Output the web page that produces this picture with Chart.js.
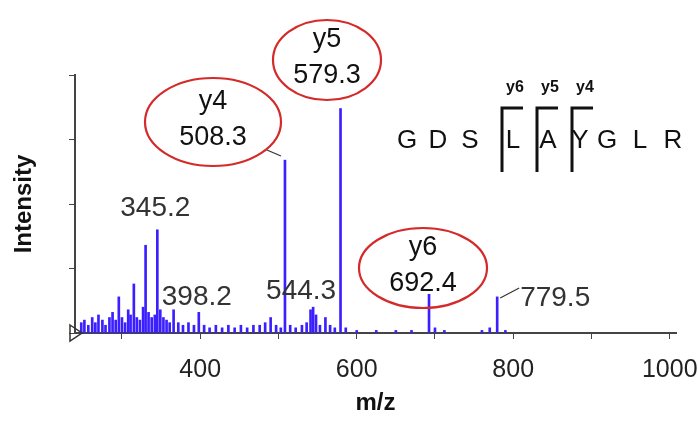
<!DOCTYPE html>
<html>
<head>
<meta charset="utf-8">
<script src="https://cdn.jsdelivr.net/npm/chart.js@4"></script>
<style>
  html, body { margin: 0; padding: 0; background: #fff; }
  #wrap { width: 698px; height: 422px; }
</style>
</head>
<body>
<div id="wrap"><canvas id="spectrum"></canvas></div>
<script>
// peak list (m/z, relative intensity)
const peakMz = [248, 252, 257, 262, 266, 270, 275, 279, 284, 288, 292, 296, 300, 304, 308, 311, 315.2,
    319, 323, 327, 330.2, 334, 338, 342, 345.2, 349, 353, 357, 361, 366, 372, 378, 385, 392, 398.2,
    405, 412, 420, 428, 436, 444, 452, 460, 468, 476, 483, 490, 497, 503, 508.3, 515, 522, 530,
    536, 541, 544.3, 548, 553, 560, 566, 572, 579.3, 586, 600, 625, 650, 670, 692.4, 700, 712,
    760, 770, 779.5, 790];
const peakInt = [4, 5, 3, 6, 4, 7, 5, 3, 6, 8, 5, 14, 6, 4, 9, 7, 19,
    6, 5, 10, 34, 8, 6, 7, 40, 9, 6, 5, 4, 9, 4, 3, 4, 3, 8,
    3, 2, 3, 2, 3, 2, 3, 2, 3, 3, 4, 6, 3, 2, 67, 3, 2, 3,
    4, 9, 10, 7, 3, 6, 3, 2, 87, 2, 1, 1, 1, 1, 15, 2, 1,
    1, 2, 14, 1];
const xTicks = [300, 400, 500, 600, 700, 800, 900, 1000];
const xLabels = ["400", "600", "800", "1000"];
const sequence = ["G", "D", "S", "L", "A", "Y", "G", "L", "R"];
const seqX = [407, 438, 470, 513, 548, 580, 607, 640, 673];
const fragLabels = ["y6", "y5", "y4"];

const font = "Arial, 'Liberation Sans', sans-serif";

const annotate = {
    id: "annotate",
    afterDraw(chart) {
        const c = chart.ctx;
        const xs = chart.scales.x;
        c.save();
        // baseline triangle marker
        c.strokeStyle = "#333"; c.lineWidth = 1.5;
        c.beginPath();
        c.moveTo(70, 325); c.lineTo(82, 333); c.lineTo(70, 341); c.closePath(); c.stroke();

        c.fillStyle = "#333";
        c.textAlign = "center"; c.textBaseline = "middle";
        c.font = "28px " + font;
        const px = v => xs.getPixelForValue(v);
        c.fillText("345.2", px(345.2) - 2, 208);
        c.fillText("398.2", px(398.2) - 2, 297);
        c.fillText("544.3", px(544.3) - 12, 291);
        c.fillText("779.5", px(779.5) + 58, 298);
        c.strokeStyle = "#333"; c.lineWidth = 1.2;
        c.beginPath(); c.moveTo(px(779.5) + 3, 298); c.lineTo(px(779.5) + 22, 288); c.stroke();
        c.beginPath(); c.moveTo(px(508.3) - 18, 150); c.lineTo(px(508.3) - 4, 156); c.stroke();

        // red ellipses with labels
        const bubbles = [
            ["y4", "508.3", 213, 122, 68, 44],
            ["y5", "579.3", 327, 60, 54, 40],
            ["y6", "692.4", 423, 268, 64, 40]
        ];
        c.font = "27px " + font;
        bubbles.forEach(b => {
            c.strokeStyle = "#d42a2a"; c.lineWidth = 2.2;
            c.beginPath(); c.ellipse(b[2], b[3], b[4], b[5], 0, 0, Math.PI * 2); c.stroke();
            c.fillStyle = "#111";
            c.fillText(b[0], b[2], b[3] - 20);
            c.fillText(b[1], b[2], b[3] + 16);
        });

        // peptide sequence with fragment brackets
        c.font = "26px " + font;
        sequence.forEach((s, i) => c.fillText(s, seqX[i], 141));
        c.strokeStyle = "#111"; c.lineWidth = 3;
        [502, 537, 572].forEach((x, i) => {
            c.beginPath(); c.moveTo(x, 172); c.lineTo(x, 108); c.lineTo(x + 21, 108); c.stroke();
            c.font = "bold 16px " + font;
            c.fillText(fragLabels[i], x + 13, 88);
        });
        c.restore();
    }
};

new Chart(document.getElementById("spectrum"), {
    type: "bar",
    data: {
        datasets: [{
            data: peakMz.map((m, i) => ({ x: m, y: peakInt[i] })),
            backgroundColor: "#3b1fff",
            barThickness: 2
        }]
    },
    options: {
        responsive: true,
        maintainAspectRatio: false,
        animation: false,
        layout: { padding: { top: 75, right: 22, left: 10, bottom: 4 } },
        plugins: { legend: { display: false }, tooltip: { enabled: false } },
        scales: {
            x: {
                type: "linear", min: 240, max: 1008, offset: false,
                afterBuildTicks: axis => { axis.ticks = xTicks.map(v => ({ value: v })); },
                ticks: {
                    color: "#222", font: { size: 25, family: font },
                    autoSkip: false, maxRotation: 0, padding: 16,
                    callback: v => xLabels.includes(String(v)) ? String(v) : ""
                },
                grid: { drawOnChartArea: false, offset: false, tickLength: 6, color: "#444" },
                border: { color: "#444", width: 2 },
                title: { display: true, text: "m/z", color: "#111", font: { size: 24, weight: "bold", family: font }, padding: 0 },
                afterFit: axis => { axis.height = 85; axis.paddingRight = 0; axis.paddingLeft = 0; }
            },
            y: {
                min: 0, max: 100,
                ticks: { stepSize: 25, callback: () => "", padding: 0 },
                grid: { drawOnChartArea: false, tickLength: 6, color: "#444" },
                border: { color: "#444", width: 2 },
                title: { display: true, text: "Intensity", color: "#111", font: { size: 24, weight: "bold", family: font }, padding: 0 },
                afterFit: axis => { axis.width = 65; }
            }
        }
    },
    plugins: [annotate]
});
</script>
</body>
</html>
